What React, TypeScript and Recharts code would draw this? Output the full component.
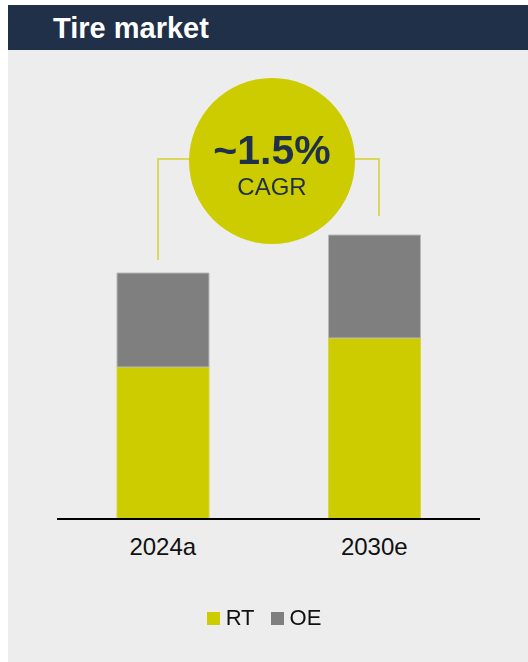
import { BarChart, Bar, XAxis, YAxis, Legend } from 'recharts'

const years = ['2024a', '2030e']
const rtValues = [152, 181]
const oeValues = [94, 103]
const seriesOrder = ['RT', 'OE']
const cagrLabel = '~1.5%'

const data = years.map((year, i) => ({ year, RT: rtValues[i], OE: oeValues[i] }))

const YELLOW = '#CCCC00'
const GREY = '#7F7F7F'
const NAVY = '#1F3048'
const FONT = '"Liberation Sans", Arial, sans-serif'

function LegendContent({ payload }: any) {
  const items = [...(payload || [])].sort(
    (a: any, b: any) => seriesOrder.indexOf(a.value) - seriesOrder.indexOf(b.value),
  )
  return (
    <div style={{ display: 'flex', justifyContent: 'center', gap: 16, fontFamily: FONT }}>
      {items.map((p: any) => (
        <div key={p.value} style={{ display: 'flex', alignItems: 'center', gap: 6 }}>
          <span style={{ width: 13, height: 13, background: p.color, display: 'inline-block' }} />
          <span style={{ fontSize: 22, color: '#111', lineHeight: '24px' }}>{p.value}</span>
        </div>
      ))}
    </div>
  )
}

export default function App() {
  return (
    <div style={{ position: 'fixed', left: 0, top: 0, width: 528, height: 662, fontFamily: FONT }}>
      {/* header strip */}
      <div
        style={{
          position: 'absolute', left: 8, top: 5, width: 520, height: 45,
          background: NAVY, color: '#fff', fontWeight: 'bold', fontSize: 29,
          lineHeight: '45px', paddingLeft: 45, paddingTop: 1, boxSizing: 'border-box',
        }}
      >
        Tire market
      </div>
      {/* panel */}
      <div style={{ position: 'absolute', left: 8, top: 50, width: 520, height: 612, background: '#EDEDED' }} />

      <div style={{ position: 'absolute', left: 0, top: 0 }}>
        <BarChart
          width={528}
          height={662}
          data={data}
          margin={{ top: 219, right: 48, bottom: 103, left: 57 }}
        >
          <YAxis hide domain={[0, 300]} />
          <XAxis
            dataKey="year"
            height={40}
            axisLine={{ stroke: '#000', strokeWidth: 2 }}
            tickLine={false}
            tickMargin={13}
            tick={{ fontSize: 24, fill: '#111', fontFamily: FONT }}
          />
          <Legend
            verticalAlign="middle"
            align="center"
            layout="horizontal"
            wrapperStyle={{ top: 606, left: 0, width: 528 }}
            content={<LegendContent />}
          />
          <Bar dataKey="RT" stackId="a" fill={YELLOW} stroke="#d6d640" strokeWidth={1} barSize={92} isAnimationActive={false} />
          <Bar dataKey="OE" stackId="a" fill={GREY} stroke="#b8b8b8" strokeWidth={1} barSize={92} isAnimationActive={false} />
        </BarChart>
      </div>

      {/* CAGR bubble with bracket lines */}
      <svg width={528} height={662} style={{ position: 'absolute', left: 0, top: 0, pointerEvents: 'none' }}>
        <polyline points="158,260 158,159 192,159" fill="none" stroke="#D2D22E" strokeWidth={1.5} />
        <polyline points="352,159 379,159 379,216" fill="none" stroke="#D2D22E" strokeWidth={1.5} />
        <circle cx={272} cy={161} r={83} fill={YELLOW} />
        <text x={272} y={164} textAnchor="middle" fontSize={41} fontWeight="bold" fill={NAVY} fontFamily={FONT}>
          {cagrLabel}
        </text>
        <text x={272} y={195} textAnchor="middle" fontSize={24} fill={NAVY} fontFamily={FONT}>
          CAGR
        </text>
      </svg>
    </div>
  )
}
